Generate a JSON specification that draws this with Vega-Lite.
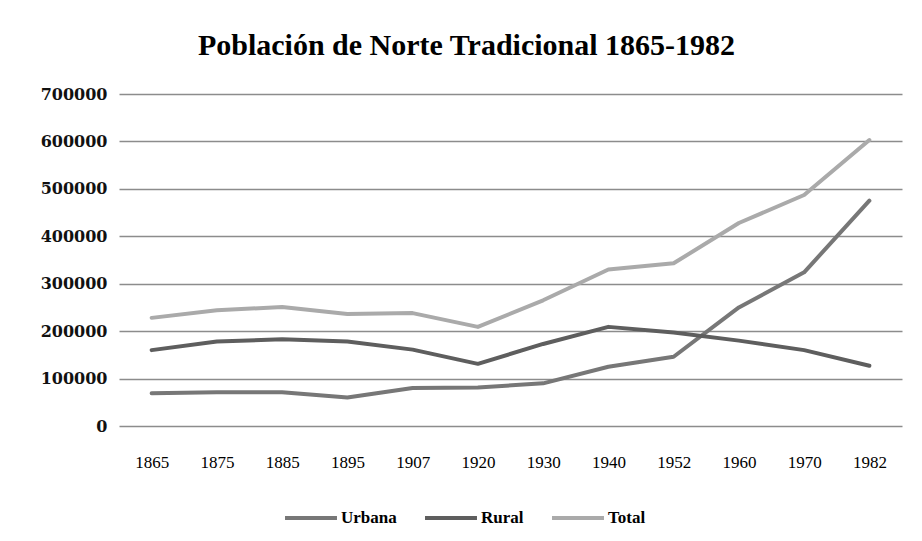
{
  "$schema": "https://vega.github.io/schema/vega-lite/v6.json",
  "autosize": "none",
  "width": 783,
  "height": 332,
  "padding": {"left": 119, "top": 94, "right": 20, "bottom": 115},
  "background": "white",
  "title": {
    "text": "Población de Norte Tradicional 1865-1982",
    "font": "Liberation Serif",
    "fontSize": 30,
    "fontWeight": "bold",
    "color": "#000000",
    "anchor": "middle",
    "dx": -44,
    "offset": 25
  },
  "data": {
    "values": [
      {"year": "1865", "serie": "Urbana", "v": 69000},
      {"year": "1875", "serie": "Urbana", "v": 71000},
      {"year": "1885", "serie": "Urbana", "v": 71000},
      {"year": "1895", "serie": "Urbana", "v": 60000},
      {"year": "1907", "serie": "Urbana", "v": 80000},
      {"year": "1920", "serie": "Urbana", "v": 81000},
      {"year": "1930", "serie": "Urbana", "v": 90000},
      {"year": "1940", "serie": "Urbana", "v": 125000},
      {"year": "1952", "serie": "Urbana", "v": 146000},
      {"year": "1960", "serie": "Urbana", "v": 250000},
      {"year": "1970", "serie": "Urbana", "v": 324000},
      {"year": "1982", "serie": "Urbana", "v": 475000},
      {"year": "1865", "serie": "Rural", "v": 160000},
      {"year": "1875", "serie": "Rural", "v": 178000},
      {"year": "1885", "serie": "Rural", "v": 183000},
      {"year": "1895", "serie": "Rural", "v": 178000},
      {"year": "1907", "serie": "Rural", "v": 161000},
      {"year": "1920", "serie": "Rural", "v": 131000},
      {"year": "1930", "serie": "Rural", "v": 173000},
      {"year": "1940", "serie": "Rural", "v": 209000},
      {"year": "1952", "serie": "Rural", "v": 197000},
      {"year": "1960", "serie": "Rural", "v": 180000},
      {"year": "1970", "serie": "Rural", "v": 160000},
      {"year": "1982", "serie": "Rural", "v": 127000},
      {"year": "1865", "serie": "Total", "v": 228000},
      {"year": "1875", "serie": "Total", "v": 244000},
      {"year": "1885", "serie": "Total", "v": 251000},
      {"year": "1895", "serie": "Total", "v": 236000},
      {"year": "1907", "serie": "Total", "v": 238000},
      {"year": "1920", "serie": "Total", "v": 209000},
      {"year": "1930", "serie": "Total", "v": 265000},
      {"year": "1940", "serie": "Total", "v": 330000},
      {"year": "1952", "serie": "Total", "v": 343000},
      {"year": "1960", "serie": "Total", "v": 428000},
      {"year": "1970", "serie": "Total", "v": 487000},
      {"year": "1982", "serie": "Total", "v": 603000}
    ]
  },
  "mark": {"type": "line", "strokeWidth": 4, "strokeCap": "round", "strokeJoin": "round"},
  "encoding": {
    "x": {
      "field": "year",
      "type": "ordinal",
      "sort": null,
      "scale": {"type": "point", "padding": 0.5},
      "axis": {
        "title": null,
        "labelAngle": 0,
        "domain": false,
        "ticks": false,
        "grid": false,
        "labelPadding": 28,
        "labelFont": "Liberation Serif",
        "labelFontSize": 17,
        "labelFontWeight": "normal",
        "labelColor": "#000000"
      }
    },
    "y": {
      "field": "v",
      "type": "quantitative",
      "scale": {"domain": [0, 700000], "nice": false},
      "axis": {
        "title": null,
        "values": [0, 100000, 200000, 300000, 400000, 500000, 600000, 700000],
        "format": "d",
        "domain": false,
        "ticks": false,
        "grid": true,
        "gridColor": "#8c8c8c",
        "gridWidth": 1.3,
        "labelPadding": 12,
        "labelFont": "DejaVu Serif",
        "labelFontSize": 16,
        "labelFontWeight": "bold",
        "labelColor": "#111111"
      }
    },
    "color": {
      "field": "serie",
      "type": "nominal",
      "sort": ["Urbana", "Rural", "Total"],
      "scale": {"domain": ["Urbana", "Rural", "Total"], "range": ["#777777", "#5e5e5e", "#aaaaaa"]},
      "legend": {
        "title": null,
        "orient": "none",
        "direction": "horizontal",
        "legendX": 164,
        "legendY": 396,
        "symbolType": "stroke",
        "symbolSize": 2700,
        "symbolStrokeWidth": 4,
        "labelFont": "Liberation Serif",
        "labelFontSize": 17,
        "labelFontWeight": "bold",
        "labelColor": "#000000",
        "labelOffset": 2,
        "columnPadding": 20
      }
    }
  },
  "config": {
    "view": {"stroke": null}
  }
}
